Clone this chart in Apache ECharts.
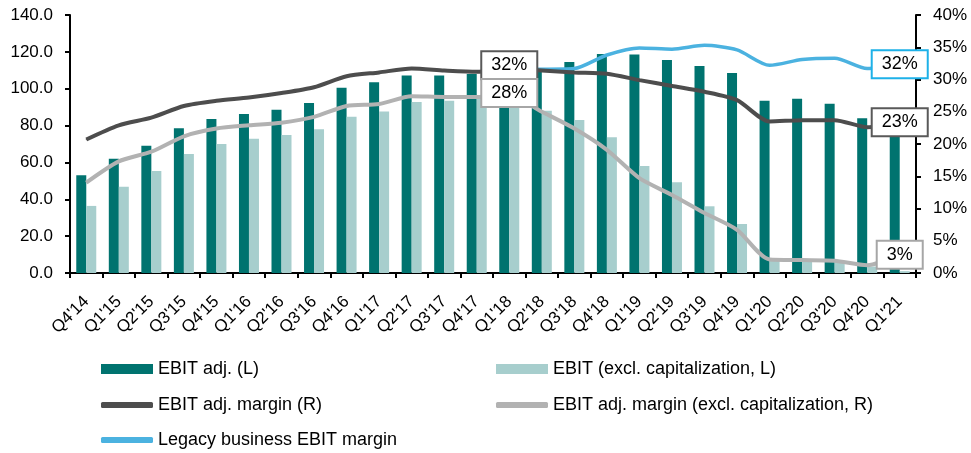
<!DOCTYPE html>
<html>
<head>
<meta charset="utf-8">
<script src="https://cdn.jsdelivr.net/npm/echarts@6/dist/echarts.min.js"></script>
<style>html,body{margin:0;padding:0;background:#fff;}#c{width:971px;height:453px;}</style>
</head>
<body>
<div id="c"></div>
<script>
const categories = ["Q4'14","Q1'15","Q2'15","Q3'15","Q4'15","Q1'16","Q2'16","Q3'16","Q4'16","Q1'17","Q2'17","Q3'17","Q4'17","Q1'18","Q2'18","Q3'18","Q4'18","Q1'19","Q2'19","Q3'19","Q4'19","Q1'20","Q2'20","Q3'20","Q4'20","Q1'21"];
const ebitAdj = [53, 62, 69, 78.5, 83.5, 86.3, 88.6, 92.2, 100.5, 103.5, 107.2, 107.2, 108, 109, 111, 114.5, 118.8, 118.6, 115.6, 112.3, 108.5, 93.5, 94.6, 91.9, 84, 79];
const ebitExcl = [36.4, 46.8, 55.3, 64.6, 70, 72.9, 74.9, 78, 84.8, 87.7, 92.8, 93.5, 95, 92, 88, 83, 73.6, 58, 49.2, 36.2, 26.6, 7, 6.5, 6, 3.5, 1];
const marginAdj = [20.7, 22.9, 24.1, 25.9, 26.7, 27.2, 27.9, 28.8, 30.5, 31.1, 31.7, 31.4, 31.2, 31.6, 31.4, 31.1, 30.9, 29.9, 29.0, 28.1, 26.8, 23.5, 23.7, 23.7, 22.6, 23.2];
const marginExcl = [14.0, 17.3, 18.8, 21.2, 22.4, 22.9, 23.3, 24.2, 25.9, 26.2, 27.4, 27.3, 27.3, 27.6, 25.0, 22.4, 19.1, 14.7, 12.1, 9.3, 6.7, 2.1, 2.0, 1.9, 1.2, 3.0];
const legacyMargin = [null, null, null, null, null, null, null, null, null, null, null, null, null, 31.6, 31.6, 31.7, 33.8, 34.9, 34.7, 35.3, 34.6, 32.2, 33.1, 33.3, 31.7, 32.2];
const leftAxis = {min: 0, max: 140, interval: 20};
const rightAxis = {min: 0, max: 40, interval: 5};
const labelledAdj = [13, 25];
const labelledExcl = [13, 25];
const labelledLegacy = [25];
const seriesNames = ['EBIT adj. (L)', 'EBIT (excl. capitalization, L)', 'EBIT adj. margin (R)', 'EBIT adj. margin (excl. capitalization, R)', 'Legacy business EBIT margin'];

const FONT = 'Liberation Sans, Arial, sans-serif';
const C_TEAL = '#00736F', C_LTEAL = '#A7CECD', C_DARK = '#4D4D4D', C_GRAY = '#B2B2B2', C_BLUE = '#4BB2E0';

function withLabels(values, idxs, offsets) {
  return values.map((v, i) => {
    const k = idxs.indexOf(i);
    return k >= 0 ? {value: v, label: {show: true, offset: offsets[k]}} : v;
  });
}
function boxLabel(border) {
  return {
    show: false, position: 'inside',
    formatter: p => Math.round(p.value) + '%',
    backgroundColor: '#fff', borderColor: border, borderWidth: 2,
    padding: [4, 9], fontSize: 18, color: '#000', fontFamily: FONT
  };
}
function lineSeries(name, data, color, z, border) {
  return {
    name, type: 'line', yAxisIndex: 1, data, z,
    smooth: 0.25, symbol: 'circle', symbolSize: 1, showSymbol: true,
    lineStyle: {color, width: 4}, itemStyle: {color},
    label: boxLabel(border), emphasis: {disabled: true}
  };
}
const legendBase = {padding: 0, itemWidth: 52, textStyle: {fontSize: 18, color: '#000', fontFamily: FONT}, selectedMode: false};

const chart = echarts.init(document.getElementById('c'), null, {renderer: 'canvas'});
chart.setOption({
  animation: false,
  backgroundColor: '#fff',
  textStyle: {fontFamily: FONT},
  grid: {left: 70, right: 55, top: 15, bottom: 180, containLabel: false},
  legend: [
    Object.assign({}, legendBase, {data: [seriesNames[0]], left: 101, top: 360, itemHeight: 10, icon: 'rect'}),
    Object.assign({}, legendBase, {data: [seriesNames[1]], left: 496, top: 360, itemHeight: 10, icon: 'rect'}),
    Object.assign({}, legendBase, {data: [seriesNames[2]], left: 101, top: 396, itemHeight: 6, icon: 'roundRect'}),
    Object.assign({}, legendBase, {data: [seriesNames[3]], left: 496, top: 396, itemHeight: 6, icon: 'roundRect'}),
    Object.assign({}, legendBase, {data: [seriesNames[4]], left: 101, top: 431, itemHeight: 6, icon: 'roundRect'})
  ],
  xAxis: {
    type: 'category', data: categories, boundaryGap: true,
    axisLine: {lineStyle: {color: '#000', width: 2}},
    axisTick: {show: true, interval: 0, length: 5, lineStyle: {color: '#000', width: 2}},
    axisLabel: {interval: 0, rotate: 45, fontSize: 17, color: '#000', margin: 26, padding: [15, 0, 0, 0]}
  },
  yAxis: [
    {type: 'value', min: leftAxis.min, max: leftAxis.max, interval: leftAxis.interval, position: 'left',
     axisLine: {show: true, lineStyle: {color: '#000', width: 2}},
     axisTick: {show: true, length: 5, lineStyle: {color: '#000', width: 2}},
     splitLine: {show: false},
     axisLabel: {formatter: v => v.toFixed(1), fontSize: 17, color: '#000', margin: 17}},
    {type: 'value', min: rightAxis.min, max: rightAxis.max, interval: rightAxis.interval, position: 'right',
     axisLine: {show: true, lineStyle: {color: '#000', width: 2}},
     axisTick: {show: true, length: 5, lineStyle: {color: '#000', width: 2}},
     splitLine: {show: false},
     axisLabel: {formatter: '{value}%', fontSize: 17, color: '#000', margin: 17}}
  ],
  series: [
    {name: seriesNames[0], type: 'bar', data: ebitAdj, barWidth: 10, barGap: '0%', itemStyle: {color: C_TEAL}, emphasis: {disabled: true}},
    {name: seriesNames[1], type: 'bar', data: ebitExcl, barWidth: 10, barGap: '0%', itemStyle: {color: C_LTEAL}, emphasis: {disabled: true}},
    lineSeries(seriesNames[2], withLabels(marginAdj, labelledAdj, [[0, -4], [0, -1]]), C_DARK, 4, '#595959'),
    lineSeries(seriesNames[3], withLabels(marginExcl, labelledExcl, [[0, -2], [0, 1]]), C_GRAY, 5, '#A6A6A6'),
    Object.assign(lineSeries(seriesNames[4], withLabels(legacyMargin, labelledLegacy, [[0, -1]]), C_BLUE, 3, '#1EB1E8'), {lineStyle: {color: C_BLUE, width: 3.5}})
  ]
});
</script>
</body>
</html>
